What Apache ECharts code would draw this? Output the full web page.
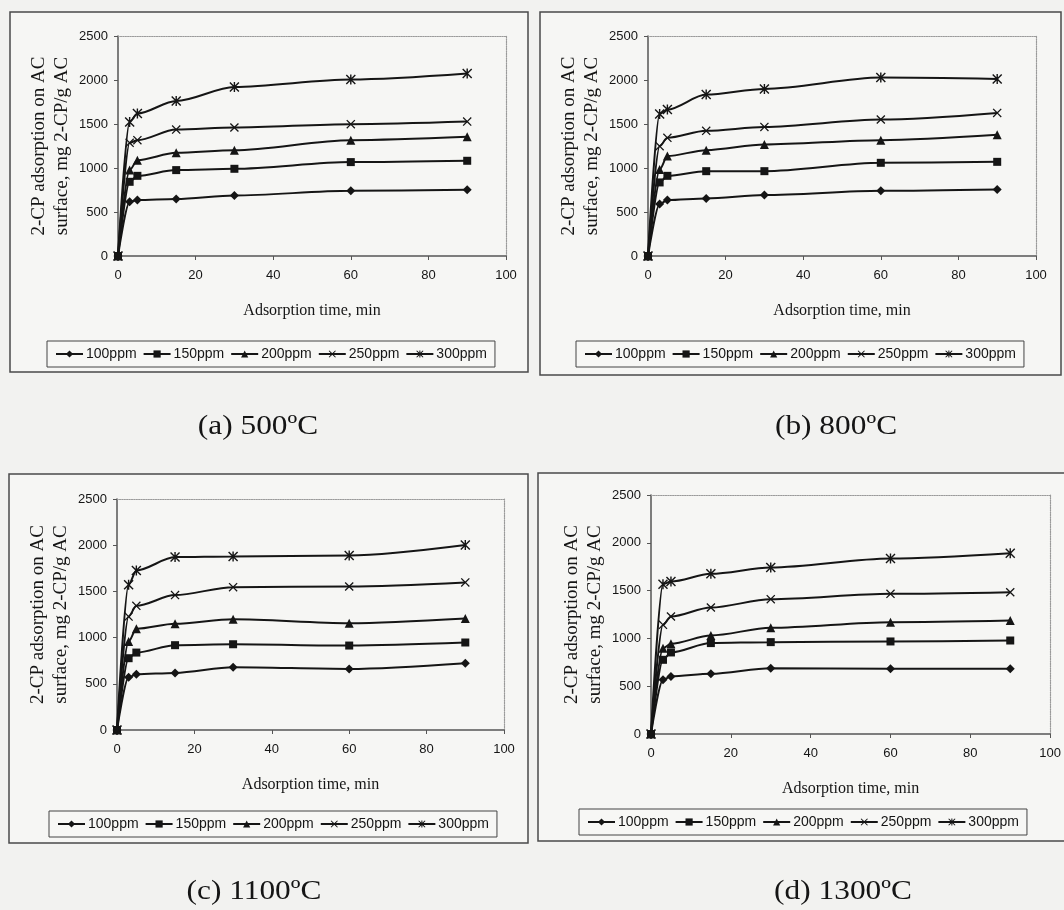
<!DOCTYPE html>
<html>
<head>
<meta charset="utf-8">
<script src="https://cdn.jsdelivr.net/npm/echarts@6/dist/echarts.min.js"></script>
<style>
html,body{margin:0;padding:0;background:#f2f2f0;}
#chart{width:1064px;height:910px;}
</style>
</head>
<body>
<div id="chart"></div>
<script>
// ---- data ----
const times = [0, 3, 5, 15, 30, 60, 90];
const seriesNames = ['100ppm', '150ppm', '200ppm', '250ppm', '300ppm'];
const xTicks = [0, 20, 40, 60, 80, 100];
const yTicks = [0, 500, 1000, 1500, 2000, 2500];
const captions = ['(a) 500ºC', '(b) 800ºC', '(c) 1100ºC', '(d) 1300ºC'];

// panel (a) 500ºC
const a100 = [0, 616, 635, 647, 688, 741, 753];
const a150 = [0, 843, 911, 976, 991, 1067, 1082];
const a200 = [0, 976, 1089, 1172, 1203, 1316, 1354];
const a250 = [0, 1286, 1316, 1437, 1460, 1498, 1528];
const a300 = [0, 1524, 1619, 1762, 1921, 2005, 2073];
// panel (b) 800ºC
const b100 = [0, 590, 635, 654, 692, 741, 756];
const b150 = [0, 836, 911, 964, 964, 1059, 1070];
const b200 = [0, 983, 1135, 1203, 1267, 1316, 1377];
const b250 = [0, 1248, 1343, 1422, 1467, 1551, 1626];
const b300 = [0, 1615, 1664, 1834, 1899, 2027, 2012];
// panel (c) 1100ºC
const c100 = [0, 571, 603, 618, 679, 661, 723];
const c150 = [0, 777, 838, 918, 928, 914, 947];
const c200 = [0, 957, 1095, 1149, 1199, 1156, 1207];
const c250 = [0, 1228, 1344, 1460, 1546, 1553, 1597];
const c300 = [0, 1572, 1727, 1871, 1879, 1889, 2001];
// panel (d) 1300ºC
const d100 = [0, 568, 602, 630, 689, 682, 682];
const d150 = [0, 776, 853, 951, 961, 968, 978];
const d200 = [0, 898, 944, 1031, 1111, 1170, 1187];
const d250 = [0, 1142, 1229, 1323, 1410, 1466, 1483];
const d300 = [0, 1567, 1595, 1675, 1741, 1835, 1891];

const panels = [
  [a100, a150, a200, a250, a300],
  [b100, b150, b200, b250, b300],
  [c100, c150, c200, c250, c300],
  [d100, d150, d200, d250, d300]
];

// ---- layout / style ----
const grids = [
  {left: 118, top: 36, width: 388, height: 220},
  {left: 648, top: 36, width: 388, height: 220},
  {left: 117, top: 499, width: 387, height: 231},
  {left: 651, top: 495, width: 406, height: 239}
];
const frames = [
  {x: 10, y: 12, w: 518, h: 360},
  {x: 540, y: 12, w: 521, h: 363},
  {x: 9, y: 474, w: 519, h: 369},
  {x: 538, y: 473, w: 545, h: 368}
];
const legendPos = [
  {left: 47, top: 341},
  {left: 576, top: 341},
  {left: 49, top: 811},
  {left: 579, top: 809}
];
const captionPos = [[258, 427], [836, 427], [254, 892], [843, 892]];

const crossPath = 'path://M1,0 L5,4 L9,0 L10,1 L6,5 L10,9 L9,10 L5,6 L1,10 L0,9 L4,5 L0,1 Z';
const starPath = 'path://M1,0 L5,4 L9,0 L10,1 L6,5 L10,9 L9,10 L5,6 L1,10 L0,9 L4,5 L0,1 Z M4.3,0 L5.7,0 L5.7,10 L4.3,10 Z';
const symbols = ['diamond', 'rect', 'triangle', crossPath, starPath];
const symbolSizes = [9, 8, 9, 9, 10];

const serif = '"Liberation Serif", "Times New Roman", serif';
const sans = '"Liberation Sans", Arial, sans-serif';
const ink = '#151515';

const xAxes = [], yAxes = [], series = [], legends = [], graphics = [];

frames.forEach(f => {
  graphics.push({
    type: 'rect', z: -10,
    shape: {x: f.x, y: f.y, width: f.w, height: f.h},
    style: {fill: '#f6f6f4', stroke: '#4a4a4a', lineWidth: 1.5}
  });
});
captions.forEach((t, i) => {
  graphics.push({
    type: 'text', x: captionPos[i][0], y: captionPos[i][1], scaleX: 1.12,
    style: {text: t, font: '28px ' + serif, fill: ink, align: 'center', verticalAlign: 'middle'}
  });
});

panels.forEach((data, p) => {
  xAxes.push({
    gridIndex: p, type: 'value', min: xTicks[0], max: xTicks[xTicks.length - 1], interval: 20,
    position: 'bottom',
    name: 'Adsorption time, min', nameLocation: 'middle', nameGap: 47,
    nameTextStyle: {fontFamily: serif, fontSize: 16, color: ink},
    axisLine: {show: true, onZero: false, lineStyle: {color: '#555', width: 1.5}},
    axisTick: {show: true, length: 4, lineStyle: {color: '#555'}},
    axisLabel: {margin: 13, fontFamily: sans, fontSize: 13, color: ink, formatter: v => String(v)},
    splitLine: {show: false}
  });
  xAxes.push({
    gridIndex: p, type: 'value', min: 0, max: 100, position: 'top',
    axisLine: {show: true, onZero: false, lineStyle: {color: '#9a9a9a', width: 1.2, type: 'dotted'}},
    axisTick: {show: false}, axisLabel: {show: false}, splitLine: {show: false}
  });
  yAxes.push({
    gridIndex: p, type: 'value', min: yTicks[0], max: yTicks[yTicks.length - 1], interval: 500,
    position: 'left',
    name: '2-CP adsorption on AC\nsurface, mg 2-CP/g AC', nameLocation: 'middle', nameGap: 44,
    nameTextStyle: {fontFamily: serif, fontSize: 19, color: ink, lineHeight: 23},
    axisLine: {show: true, onZero: false, lineStyle: {color: '#555', width: 1.5}},
    axisTick: {show: true, length: 4, lineStyle: {color: '#555'}},
    axisLabel: {margin: 10, fontFamily: sans, fontSize: 13, color: ink, formatter: v => String(v)},
    splitLine: {show: false}
  });
  yAxes.push({
    gridIndex: p, type: 'value', min: 0, max: 2500, position: 'right',
    axisLine: {show: true, onZero: false, lineStyle: {color: '#9a9a9a', width: 1.2, type: 'dotted'}},
    axisTick: {show: false}, axisLabel: {show: false}, splitLine: {show: false}
  });

  data.forEach((vals, s) => {
    series.push({
      name: seriesNames[s], type: 'line',
      xAxisIndex: 2 * p, yAxisIndex: 2 * p,
      data: times.map((t, k) => [t, vals[k]]),
      smooth: 0.3, smoothMonotone: 'x',
      symbol: symbols[s], symbolSize: symbolSizes[s],
      showAllSymbol: true,
      lineStyle: {color: ink, width: 2},
      itemStyle: {color: ink, borderColor: ink, borderWidth: 0},
      emphasis: {disabled: true},
      animation: false
    });
  });

  legends.push({
    data: seriesNames,
    left: legendPos[p].left, top: legendPos[p].top,
    orient: 'horizontal',
    itemWidth: 27, itemHeight: 9, itemGap: 6,
    padding: [6, 8],
    borderColor: '#444', borderWidth: 1,
    backgroundColor: '#f7f7f5',
    selectedMode: false,
    textStyle: {fontFamily: sans, fontSize: 14, color: ink, padding: [0, 0, 0, -2]}
  });
});

const chart = echarts.init(document.getElementById('chart'), null, {renderer: 'canvas'});
chart.setOption({
  backgroundColor: '#f2f2f0',
  animation: false,
  grid: grids.map(g => Object.assign({containLabel: false}, g)),
  xAxis: xAxes,
  yAxis: yAxes,
  legend: legends,
  series: series,
  graphic: graphics
});
</script>
</body>
</html>
